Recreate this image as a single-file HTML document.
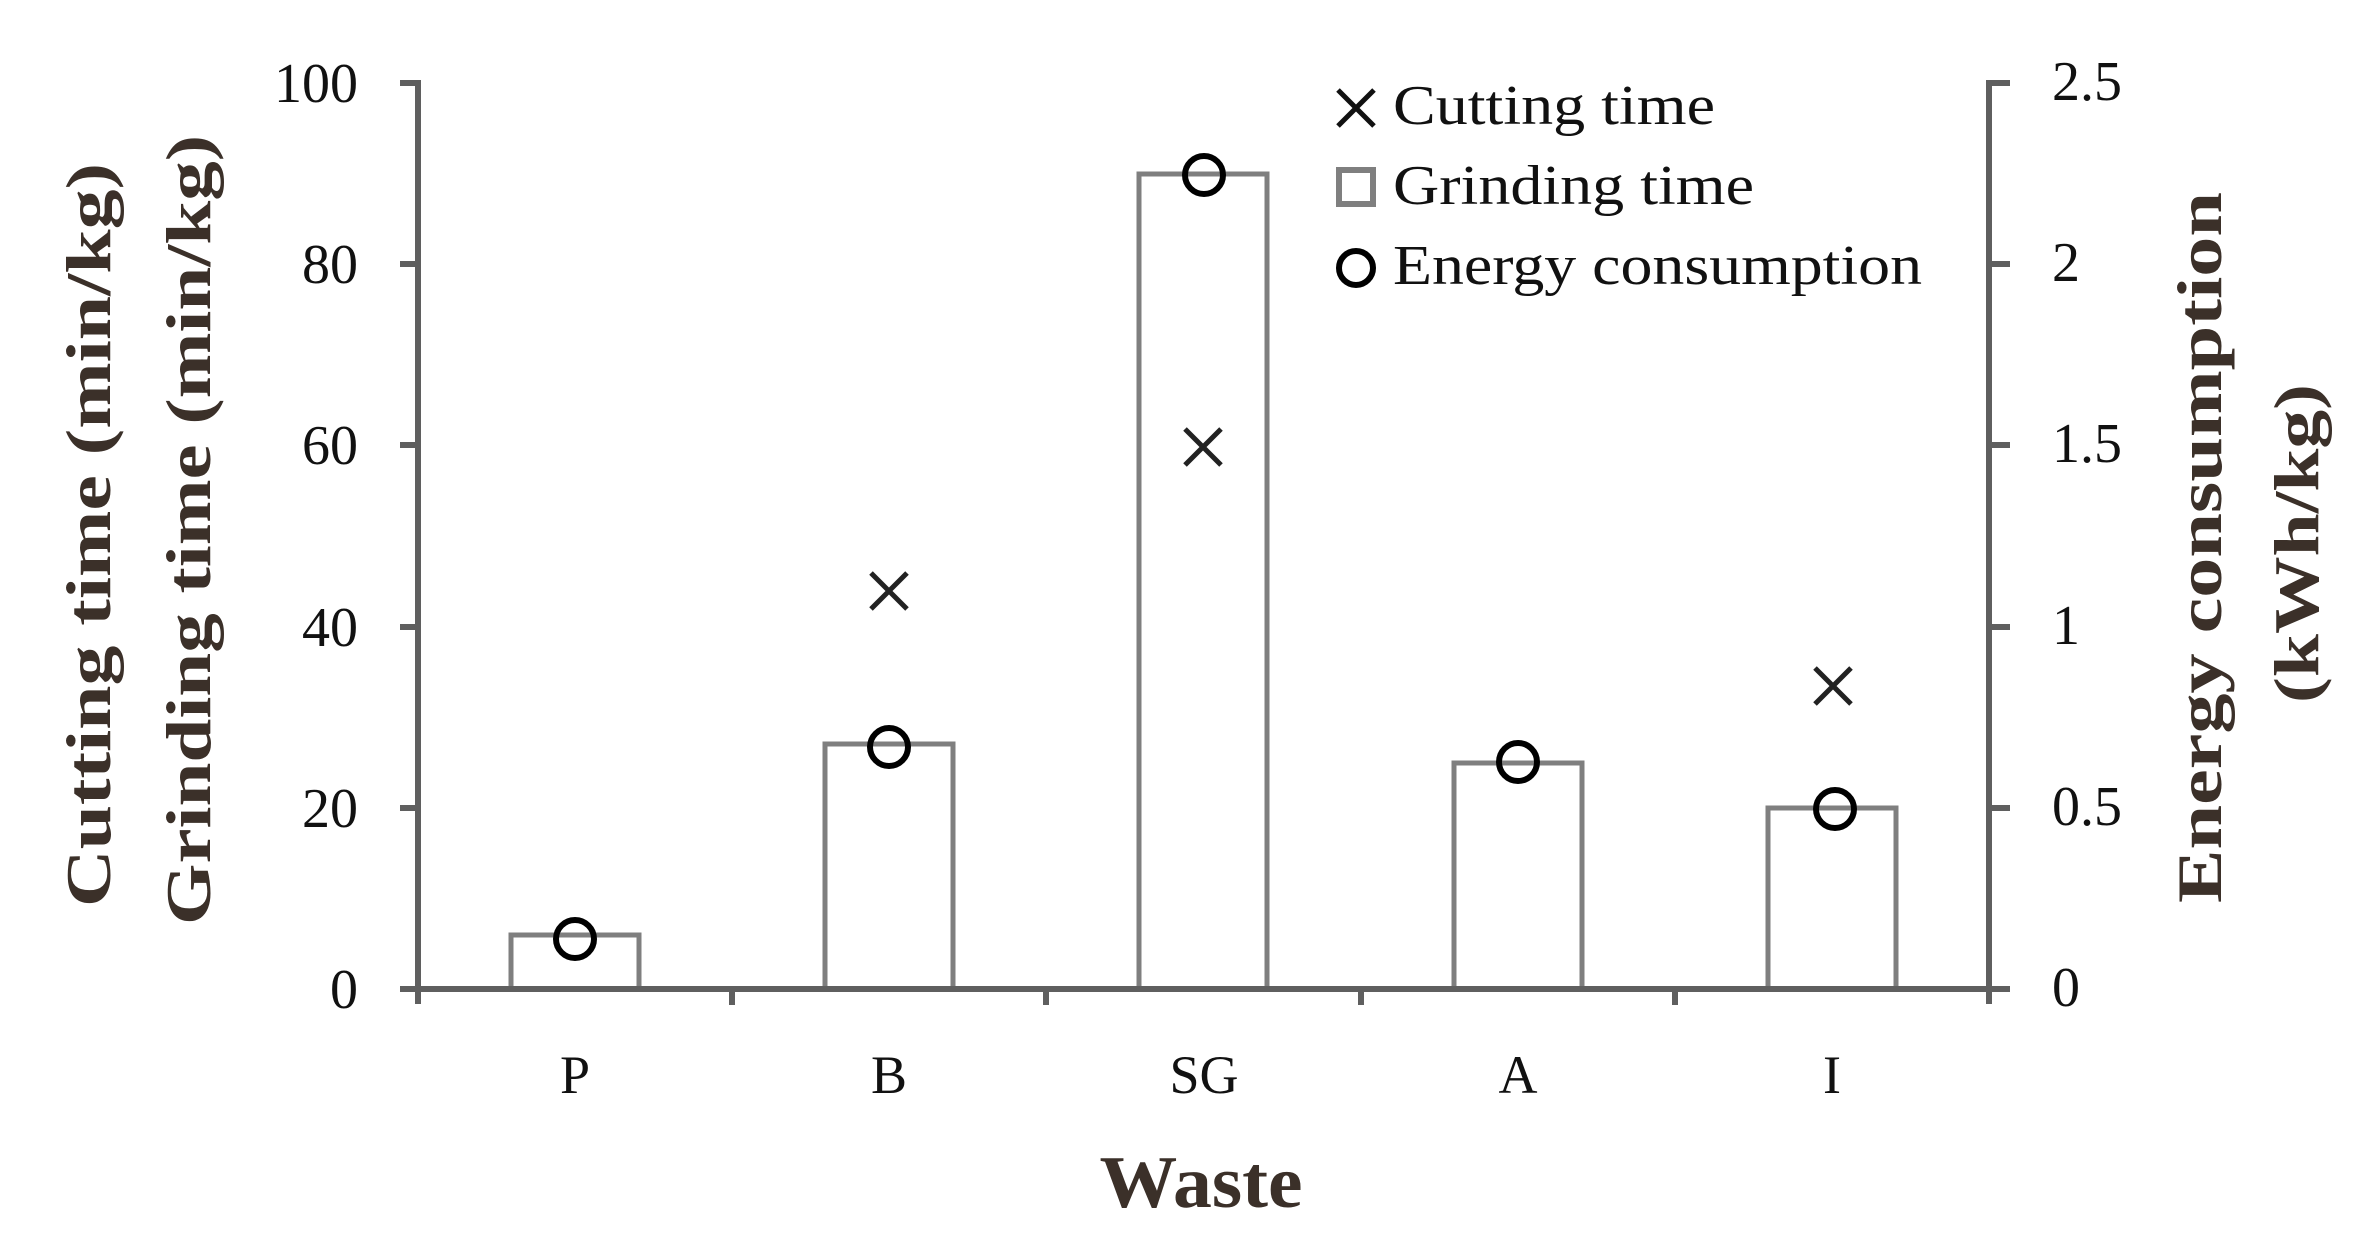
<!DOCTYPE html>
<html><head><meta charset="utf-8"><style>
html,body{margin:0;padding:0;background:#fff;}
svg{display:block;}
text{font-family:"Liberation Serif","DejaVu Serif",serif;}
</style></head><body>
<svg width="2370" height="1253" viewBox="0 0 2370 1253" xmlns="http://www.w3.org/2000/svg">
<rect width="2370" height="1253" fill="#fff"/>
<g fill="#fff" stroke="#7f7f7f" stroke-width="5">
<rect x="511" y="935" width="128" height="54"/>
<rect x="825" y="744" width="128" height="245"/>
<rect x="1139" y="174" width="128" height="815"/>
<rect x="1454" y="763" width="128" height="226"/>
<rect x="1768" y="808" width="128" height="181"/>
</g>
<g stroke="#5f5f5f" stroke-width="6" fill="none">
<line x1="418" y1="80" x2="418" y2="1004"/>
<line x1="1989" y1="80" x2="1989" y2="1004"/>
<line x1="415" y1="989" x2="1992" y2="989"/>
<line x1="400" y1="83" x2="418" y2="83"/>
<line x1="400" y1="264" x2="418" y2="264"/>
<line x1="400" y1="445" x2="418" y2="445"/>
<line x1="400" y1="627" x2="418" y2="627"/>
<line x1="400" y1="808" x2="418" y2="808"/>
<line x1="400" y1="989" x2="418" y2="989"/>
<line x1="1989" y1="83" x2="2010" y2="83"/>
<line x1="1989" y1="264" x2="2010" y2="264"/>
<line x1="1989" y1="445" x2="2010" y2="445"/>
<line x1="1989" y1="627" x2="2010" y2="627"/>
<line x1="1989" y1="808" x2="2010" y2="808"/>
<line x1="1989" y1="989" x2="2010" y2="989"/>
<line x1="732" y1="989" x2="732" y2="1005"/>
<line x1="1046" y1="989" x2="1046" y2="1005"/>
<line x1="1361" y1="989" x2="1361" y2="1005"/>
<line x1="1675" y1="989" x2="1675" y2="1005"/>
</g>
<g fill="none" stroke="#000" stroke-width="6">
<circle cx="575" cy="939" r="19"/>
<circle cx="889" cy="747" r="19"/>
<circle cx="1204" cy="175" r="19"/>
<circle cx="1518" cy="762" r="19"/>
<circle cx="1835" cy="809" r="19"/>
</g>
<g stroke="#222" stroke-width="5">
<path d="M871 573 L907 609 M907 573 L871 609"/>
<path d="M1185 429 L1221 465 M1221 429 L1185 465"/>
<path d="M1815 668 L1851 704 M1851 668 L1815 704"/>
</g>
<g font-size="56" fill="#111" text-anchor="end">
<text x="358" y="102">100</text>
<text x="358" y="283">80</text>
<text x="358" y="464">60</text>
<text x="358" y="646">40</text>
<text x="358" y="827">20</text>
<text x="358" y="1008">0</text>
</g>
<g font-size="56" fill="#111">
<text x="2052" y="100">2.5</text>
<text x="2052" y="281">2</text>
<text x="2052" y="462">1.5</text>
<text x="2052" y="644">1</text>
<text x="2052" y="825">0.5</text>
<text x="2052" y="1006">0</text>
</g>
<g font-size="54" fill="#111" text-anchor="middle">
<text x="575" y="1093">P</text>
<text x="889" y="1093">B</text>
<text x="1204" y="1093">SG</text>
<text x="1518" y="1093">A</text>
<text x="1832" y="1093">I</text>
</g>
<text x="1201" y="1207" font-size="74" font-weight="bold" fill="#3b3029" text-anchor="middle" textLength="203" lengthAdjust="spacingAndGlyphs">Waste</text>
<text transform="translate(110,907) rotate(-90)" font-size="64" font-weight="bold" fill="#3b3029" textLength="744" lengthAdjust="spacingAndGlyphs">Cutting time (min/kg)</text>
<text transform="translate(210,925) rotate(-90)" font-size="64" font-weight="bold" fill="#3b3029" textLength="790" lengthAdjust="spacingAndGlyphs">Grinding time (min/kg)</text>
<text transform="translate(2221,903) rotate(-90)" font-size="64" font-weight="bold" fill="#3b3029" textLength="711" lengthAdjust="spacingAndGlyphs">Energy consumption</text>
<text transform="translate(2318,703) rotate(-90)" font-size="64" font-weight="bold" fill="#3b3029" textLength="319" lengthAdjust="spacingAndGlyphs">(kWh/kg)</text>
<path d="M1338 90 L1374 126 M1374 90 L1338 126" stroke="#111" stroke-width="5"/>
<rect x="1339" y="170" width="34" height="34" fill="#fff" stroke="#7f7f7f" stroke-width="6"/>
<circle cx="1356" cy="268" r="17" fill="none" stroke="#000" stroke-width="6"/>
<g font-size="56" fill="#111">
<text x="1393" y="124" textLength="322" lengthAdjust="spacingAndGlyphs">Cutting time</text>
<text x="1393" y="204" textLength="361" lengthAdjust="spacingAndGlyphs">Grinding time</text>
<text x="1393" y="284" textLength="529" lengthAdjust="spacingAndGlyphs">Energy consumption</text>
</g>
</svg>
</body></html>
